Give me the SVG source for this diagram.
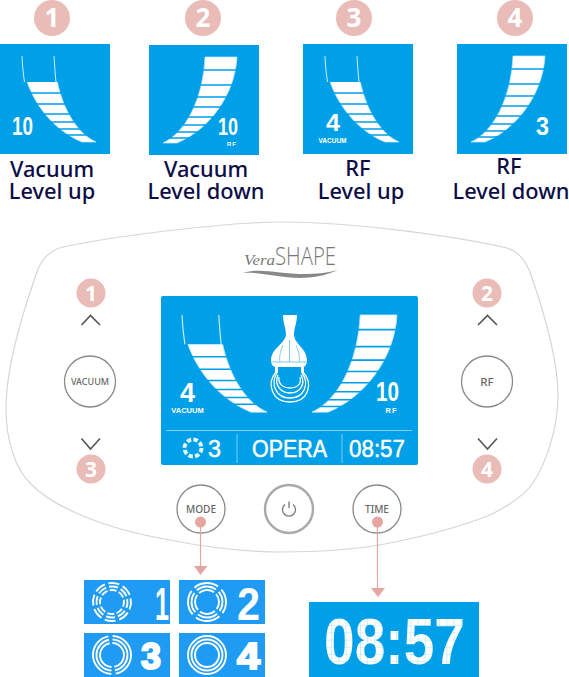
<svg xmlns="http://www.w3.org/2000/svg" width="569" height="677" viewBox="0 0 569 677">
<style>
.bd{fill:#e9bcb8}
.bn{fill:#fff;font-family:"Noto Sans","Liberation Sans",sans-serif;font-weight:700;text-anchor:middle}
.lb{fill:#0d0c47;font-family:"Noto Sans","Liberation Sans",sans-serif;font-weight:500;font-size:21.800px;text-anchor:middle}
.lcd{fill:#00a0e9}
.dg{fill:#fff;font-family:"Liberation Sans",sans-serif;font-weight:700}
.dl{fill:#fff;font-family:"Liberation Sans",sans-serif;font-weight:400;stroke:#fff;stroke-width:.5}
.sm{fill:#fff;font-family:"Liberation Sans",sans-serif;font-weight:700;text-anchor:middle}
.btn{fill:#fff;stroke:#8a8a8a;stroke-width:1.3}
.bt{fill:#666;font-family:"Noto Sans","Liberation Sans",sans-serif;font-weight:500;text-anchor:middle}
.chev{fill:none;stroke:#555;stroke-width:1.6}
.sep{stroke:#00a0e9;stroke-width:1.4}
.out{fill:none;stroke:#cdeefb;stroke-width:1}
.ln{stroke:#e5a6a0;stroke-width:1.2;fill:none}
.hd{fill:#e5a6a0}
.md{fill:#1f9bf4}
.rg{fill:none;stroke:#fff;stroke-width:1.9}
.dv{stroke:#7fcbf1;stroke-width:1}
</style>
<defs>
<path id="gshape" d="M56 12L88 12C86 50 60 85 28 98L14 98C36 88 54 55 56 12Z" fill="#fff" stroke="#bfe7fa" stroke-width=".7"/>
<clipPath id="cgauge"><path d="M54 10H92C90 50 62 90 30 100L10 100C36 88 52 55 54 10Z"/></clipPath>
<g id="gfull">
<use href="#gshape"/>
<path class="sep" clip-path="url(#cgauge)" d="M0 25H110M0 40H110M0 52H110M0 62H110M0 72H110M0 80H110M0 87H110M0 93H110"/>
</g>
<clipPath id="cpart"><rect x="0" y="38" width="110" height="70"/></clipPath>
<g id="gpart">
<g clip-path="url(#cpart)"><use href="#gshape"/></g>
<path class="sep" clip-path="url(#cgauge)" d="M0 49H110M0 60H110M0 70H110M0 78H110M0 85H110M0 91H110"/>
<path class="out" d="M56 12C55.500 20 55 28 54 38M88 12C87.700 20 87 28 85.500 38"/>
</g>
<pattern id="pix" width="7.200" height="7.200" patternUnits="userSpaceOnUse" x="324" y="618">
<rect width="7.200" height="7.200" fill="#fff"/>
<path d="M0 0H7.200M0 0V7.200" stroke="#a4e0f8" stroke-width="1" fill="none"/>
</pattern>
</defs>

<g id="badge-1"><circle class="bd" cx="52" cy="18" r="18"/><text class="bn" x="52" y="27" font-size="26">1</text></g>
<g id="badge-2"><circle class="bd" cx="203" cy="18" r="18"/><text class="bn" x="203" y="27" font-size="26">2</text></g>
<g id="badge-3"><circle class="bd" cx="354" cy="18" r="18"/><text class="bn" x="354" y="27" font-size="26">3</text></g>
<g id="badge-4"><circle class="bd" cx="515" cy="18" r="18"/><text class="bn" x="515" y="27" font-size="26">4</text></g>

<g id="panel-1">
<rect class="lcd" x="0" y="44" width="110" height="110"/>
<use href="#gpart" transform="translate(110 44) scale(-1 1)"/>
<text class="dg" x="12" y="135" font-size="25" textLength="21" lengthAdjust="spacingAndGlyphs">10</text>
<text class="lb"><tspan x="52" y="177">Vacuum</tspan><tspan x="52" y="199">Level up</tspan></text>
</g>
<g id="panel-2">
<rect class="lcd" x="149" y="45" width="110" height="110"/>
<use href="#gfull" transform="translate(149 45)"/>
<text class="dg" x="218" y="135" font-size="23" textLength="20" lengthAdjust="spacingAndGlyphs">10</text>
<text class="sm" x="232" y="146" font-size="6" letter-spacing="1">RF</text>
<text class="lb"><tspan x="206" y="177">Vacuum</tspan><tspan x="206" y="199">Level down</tspan></text>
</g>
<g id="panel-3">
<rect class="lcd" x="303" y="44" width="110" height="110"/>
<use href="#gpart" transform="translate(413 44) scale(-1 1)"/>
<text class="dg" x="326" y="131" font-size="23" textLength="14" lengthAdjust="spacingAndGlyphs">4</text>
<text class="sm" x="332.500" y="143" font-size="6.500">VACUUM</text>
<text class="lb"><tspan x="358" y="176">RF</tspan><tspan x="361" y="199">Level up</tspan></text>
</g>
<g id="panel-4">
<rect class="lcd" x="457" y="44" width="110" height="110"/>
<use href="#gfull" transform="translate(457 44)"/>
<text class="dg" x="536" y="135" font-size="26" textLength="13" lengthAdjust="spacingAndGlyphs">3</text>
<text class="lb"><tspan x="509" y="174">RF</tspan><tspan x="511" y="199">Level down</tspan></text>
</g>

<g id="device">
<path d="M282 222C230 222 120 235 63 247C50 250 41 260 37 272C20 320 6 370 6 408C6 440 15 468 30 483C50 505 100 528 170 540C210 548 250 552 282 552C330 552 360 549 390 543C430 535 465 525 490 515C510 505 525 495 533 483C545 465 558 430 558 395C558 360 545 315 530 272C525 260 518 251 507 248C450 235 350 222 282 222Z" fill="#fff" stroke="#d6d6d6" stroke-width="1.2"/>
</g>

<g id="logo">
<text x="244" y="265" font-family="'Liberation Serif',serif" font-style="italic" font-size="15" fill="#777" textLength="31" lengthAdjust="spacingAndGlyphs">Vera</text>
<text x="275" y="265" font-family="'Open Sans','Liberation Sans',sans-serif" font-weight="300" font-size="25" fill="#777" textLength="61" lengthAdjust="spacingAndGlyphs">SHAPE</text>
<path d="M243 273C265 265 295 281 338 270C300 287 268 271 243 273Z" fill="#888"/>
</g>

<g id="display">
<rect class="lcd" x="161" y="296" width="257" height="169" rx="2"/>
<use href="#gpart" transform="matrix(-1.15 0 0 1.13 283.200 301.400)"/>
<use href="#gfull" transform="matrix(1.15 0 0 1.13 295.800 301.400)"/>
<g id="applicator">
<path d="M283 315H297C297 323 294 328 294 335C295 345 307 348 307 361C307 364 305 367 303 367H276C273 367 271 364 271 361C271 348 284 345 286 335C286 328 283 323 283 315Z" fill="#fff"/>
<path d="M271 362H307M283 345C280 352 279 358 280 362M296 345C299 352 300 358 299 362M289.500 340V362" stroke="#7fcbf1" stroke-width="1" fill="none"/>
<path d="M275 367h3v6h-3zM301 367h3v6h-3z" fill="#fff"/>
<path d="M276 372C266 384 272 402 290 402C308 402 314 384 303 372M277 373C270 384 276 398 290 398C304 398 310 384 302 373M278 375C274 384 280 393 290 393C300 393 306 384 301 375M279 377C278 384 283 388 290 388C297 388 302 384 300 377" fill="none" stroke="#fff" stroke-width="1.300"/>
</g>
<text class="dg" x="180" y="402" font-size="27" textLength="15" lengthAdjust="spacingAndGlyphs">4</text>
<text class="sm" x="187.500" y="412.500" font-size="7.500">VACUUM</text>
<text class="dg" x="376" y="401" font-size="27" textLength="23" lengthAdjust="spacingAndGlyphs">10</text>
<text class="sm" x="391.500" y="412.500" font-size="7.500" letter-spacing="1">RF</text>
<path class="dv" d="M166 430.500H412M237 434V463M342 434V463"/>
<circle cx="193" cy="448" r="8.500" fill="none" stroke="#e3f5fd" stroke-width="4" stroke-dasharray="4.500 2.200"/>
<text class="dl" x="208" y="457" font-size="24" textLength="13" lengthAdjust="spacingAndGlyphs">3</text>
<text class="dl" x="252" y="457" font-size="24" textLength="75" lengthAdjust="spacingAndGlyphs">OPERA</text>
<text class="dl" x="349" y="457" font-size="24" textLength="56" lengthAdjust="spacingAndGlyphs">08:57</text>
</g>

<g id="btn-vacuum"><circle class="btn" cx="90" cy="381.500" r="25.500"/><text class="bt" x="90" y="385" font-size="9">VACUUM</text></g>
<g id="btn-rf"><circle class="btn" cx="487" cy="381.500" r="25.500"/><text class="bt" x="487" y="386" font-size="11.500">RF</text></g>
<g id="vac-up"><path class="chev" d="M81.500 325L90.500 315.500L100 325"/></g>
<g id="vac-down"><path class="chev" d="M81.500 438.500L90.500 449L100 438.500"/></g>
<g id="rf-up"><path class="chev" d="M478 325L487.500 315.500L497 325"/></g>
<g id="rf-down"><path class="chev" d="M478 438.500L487.500 449L497 438.500"/></g>
<g id="b2-1"><circle class="bd" cx="91" cy="293" r="14.500"/><text class="bn" x="91" y="300.500" font-size="21">1</text></g>
<g id="b2-3"><circle class="bd" cx="91" cy="469" r="14.500"/><text class="bn" x="91" y="476.500" font-size="21">3</text></g>
<g id="b2-2"><circle class="bd" cx="487" cy="293" r="14.500"/><text class="bn" x="487" y="300.500" font-size="21">2</text></g>
<g id="b2-4"><circle class="bd" cx="487" cy="469" r="14.500"/><text class="bn" x="487" y="476.500" font-size="21">4</text></g>

<g id="btn-mode"><circle class="btn" cx="201" cy="509" r="24"/><text class="bt" x="201" y="513" font-size="10">MODE</text></g>
<g id="btn-power"><circle cx="289" cy="509" r="24" fill="#fff" stroke="#aaa" stroke-width="2.500"/><path d="M285 504.500A6.500 6.500 0 1 0 293 504.500M289 501.500V508" fill="none" stroke="#777" stroke-width="1.300"/></g>
<g id="btn-time"><circle class="btn" cx="377" cy="509" r="24"/><text class="bt" x="377" y="513" font-size="10">TIME</text></g>

<g id="connectors">
<circle class="hd" cx="200.500" cy="522" r="5.500"/>
<path class="ln" d="M200.500 522V567"/>
<path class="hd" d="M194 566H207.500L200.500 575Z"/>
<circle class="hd" cx="377.500" cy="522" r="5.500"/>
<path class="ln" d="M377.500 522V589"/>
<path class="hd" d="M371 588H385L378 597Z"/>
</g>

<g id="mode-1">
<rect class="md" x="84" y="580" width="86" height="44"/>
<g transform="rotate(-11 112 602)"><circle class="rg" cx="112" cy="602" r="12" pathLength="80" stroke-dasharray="7.500 2.500"/><circle class="rg" cx="112" cy="602" r="15.500" pathLength="80" stroke-dasharray="7.500 2.500"/><circle class="rg" cx="112" cy="602" r="19" pathLength="80" stroke-dasharray="7.500 2.500"/></g>
<text class="dg" x="169" y="620" font-size="46" text-anchor="end" textLength="14" lengthAdjust="spacingAndGlyphs">1</text>
</g>
<g id="mode-2">
<rect class="md" x="179" y="580" width="86" height="44"/>
<g transform="rotate(-41 207 602)"><circle class="rg" cx="207" cy="602" r="12" pathLength="40" stroke-dasharray="8.500 1.500"/><circle class="rg" cx="207" cy="602" r="15.500" pathLength="40" stroke-dasharray="8.500 1.500"/><circle class="rg" cx="207" cy="602" r="19" pathLength="40" stroke-dasharray="8.500 1.500"/></g>
<text class="dg" x="237" y="620" font-size="46" textLength="23" lengthAdjust="spacingAndGlyphs">2</text>
</g>
<g id="mode-3">
<rect class="md" x="84" y="633" width="86" height="44"/>
<g transform="rotate(-88 112 655)"><circle class="rg" cx="112" cy="655" r="12" pathLength="40" stroke-dasharray="18.500 1.500"/><circle class="rg" cx="112" cy="655" r="15.500" pathLength="40" stroke-dasharray="18.500 1.500"/><circle class="rg" cx="112" cy="655" r="19" pathLength="40" stroke-dasharray="18.500 1.500"/></g>
<text class="dg" x="141" y="669" font-size="36" stroke="#fff" stroke-width="2" textLength="20" lengthAdjust="spacingAndGlyphs">3</text>
</g>
<g id="mode-4">
<rect class="md" x="179" y="633" width="86" height="44"/>
<circle class="rg" cx="207" cy="655" r="12"/><circle class="rg" cx="207" cy="655" r="15.500"/><circle class="rg" cx="207" cy="655" r="19"/>
<text class="dg" x="237" y="669" font-size="36" stroke="#fff" stroke-width="2" textLength="23" lengthAdjust="spacingAndGlyphs">4</text>
</g>

<g id="time-panel">
<rect class="lcd" x="309" y="602" width="170" height="75"/>
<text class="dg" x="324" y="664" font-size="64" style="fill:url(#pix)" textLength="141" lengthAdjust="spacingAndGlyphs">08:57</text>
</g>
</svg>
